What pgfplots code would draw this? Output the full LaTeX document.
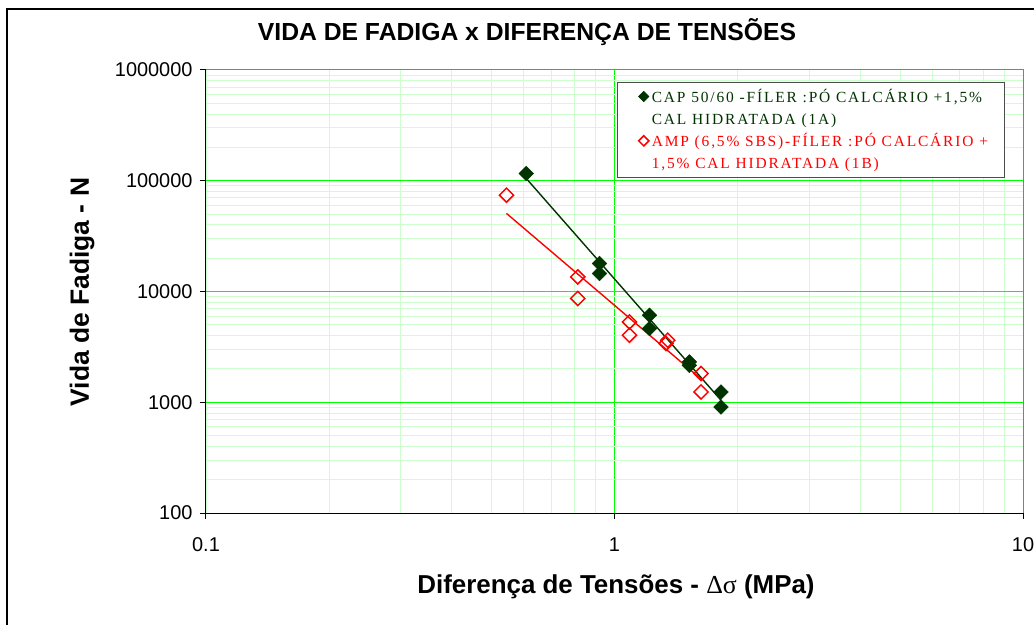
\documentclass[border=0pt]{standalone}
\usepackage{fontspec}
\setmainfont{Liberation Sans}
\newfontfamily\legfont[LetterSpace=12]{Liberation Serif}
\newfontfamily\symfont{Liberation Serif}
\usepackage{pgfplots}
\pgfplotsset{compat=1.18}
\definecolor{dkgreen}{RGB}{0,51,0}
\definecolor{majgrid}{RGB}{0,255,0}
\definecolor{mingrid}{RGB}{204,255,204}
\begin{document}
\begin{tikzpicture}
\useasboundingbox (0,0) rectangle (1034bp,-625bp);
\draw[line width=1.2bp] (7bp,-700bp) -- (7bp,-9bp) -- (1100bp,-9bp);
\begin{axis}[
  at={(206bp,-513bp)}, anchor=south west,
  width=817bp, height=443bp, scale only axis,
  xmode=log, ymode=log,
  xmin=0.1, xmax=10, ymin=100, ymax=1000000,
  xtick={0.1,1,10}, xticklabels={0.1,1,10},
  ytick={100,1000,10000,100000,1000000},
  yticklabels={100,1000,10000,100000,1000000},
  axis x line*=bottom, axis y line*=left,
  axis line style={black, line width=1bp},
  grid=both,
  major grid style={majgrid, line width=1bp},
  minor grid style={mingrid, line width=0.9bp},
  tick align=outside, major tick length=6bp, minor tick length=0pt,
  tick style={black, line width=1bp},
  tick label style={font=\fontsize{20}{20}\selectfont},
  xticklabel style={yshift=-15bp},
  yticklabel style={xshift=-4bp},
  legend style={at={(0.503,0.973)}, anchor=north west, draw=black!70, fill=white,
    line width=0.8bp, font=\legfont\fontsize{15.5}{21}\selectfont,
    inner xsep=3bp, inner ysep=3bp, row sep=0bp, column sep=3bp,
    nodes={inner sep=0pt, text height=17bp, text depth=5.2bp}},
  legend image code/.code={\path (-23bp,0bp); \draw[#1, mark size=3.6bp] plot coordinates {(0bp,0bp)};},
  legend cell align=left,
  clip=false,
]
\addplot[dkgreen, line width=1.4bp, forget plot] coordinates {(0.608,105000) (1.823,1042)};
\addplot[red, line width=1.4bp, forget plot] coordinates {(0.544,50700) (1.643,1580)};
\addplot[only marks, mark=square*, mark size=5.2bp, mark options={rotate=45, fill=dkgreen, draw=dkgreen}]
  coordinates {(0.608,116400) (0.919,17900) (0.919,14550) (1.218,6110) (1.218,4630) (1.525,2312) (1.525,2158) (1.823,1239) (1.823,907)};
\addlegendentry{\color{dkgreen}CAP 50/60 -FÍLER :PÓ CALCÁRIO +1,5\%\kern19bp\relax}
\addlegendimage{empty legend}
\addlegendentry{\color{dkgreen}CAL HIDRATADA (1A)}
\addplot[only marks, mark=square, mark size=5bp, mark options={rotate=45, draw=red, line width=1.5bp}]
  coordinates {(0.544,74100) (0.813,13550) (0.813,8650) (1.088,5310) (1.088,4030) (1.35,3630) (1.337,3390) (1.629,1816) (1.629,1239)};
\addlegendentry{\color{red}AMP (6,5\% SBS)-FÍLER :PÓ CALCÁRIO +}
\addlegendimage{empty legend}
\addlegendentry{\color{red}1,5\% CAL HIDRATADA (1B)}
\draw[black!50, line width=1bp] (rel axis cs:0,1) -- (rel axis cs:1,1) -- (rel axis cs:1,0);
\end{axis}
\node[font=\bfseries\fontsize{24.8}{24.8}\selectfont] at (527bp,-32bp) {VIDA DE FADIGA x DIFERENÇA DE TENSÕES};
\node[font=\bfseries\fontsize{26.5}{26.5}\selectfont, rotate=90] at (82bp,-292bp) {Vida de Fadiga - N};
\node[font=\bfseries\fontsize{26}{26}\selectfont] at (616bp,-587bp) {Diferença de Tensões - {\symfont\mdseries Δσ} (MPa)};
\end{tikzpicture}
\end{document}
